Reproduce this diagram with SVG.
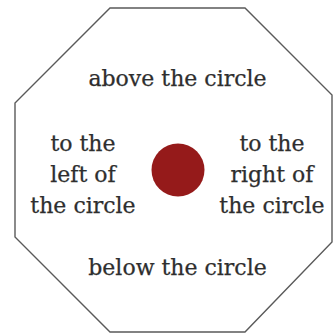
<svg xmlns="http://www.w3.org/2000/svg" width="333" height="336" viewBox="0 0 333 336">
<style>
.lbl{font-family:"DejaVu Serif","Liberation Serif",serif;font-size:22px;fill:#2e2e2e;stroke:#2e2e2e;stroke-width:0.25;text-anchor:middle}
</style>
<rect width="333" height="336" fill="#fff"/>
<g id="octagon">
<polygon points="110,8 245,8 332,95 332,242 245,332 110,332 15,237 15,103" fill="#fff" stroke="#5a5a5a" stroke-width="1.4"/>
</g>
<g id="circle">
<circle cx="178" cy="170" r="26.5" fill="#951a1a"/>
</g>
<g id="above"><text class="lbl" x="177.5" y="86">above the circle</text></g>
<g id="left">
<text class="lbl" x="83" y="151">to the</text>
<text class="lbl" x="83" y="182">left of</text>
<text class="lbl" x="83" y="213">the circle</text>
</g>
<g id="right">
<text class="lbl" x="272" y="151">to the</text>
<text class="lbl" x="272" y="182">right of</text>
<text class="lbl" x="272" y="213">the circle</text>
</g>
<g id="below"><text class="lbl" x="177.5" y="275">below the circle</text></g>
<g id="connectors"></g>
</svg>
